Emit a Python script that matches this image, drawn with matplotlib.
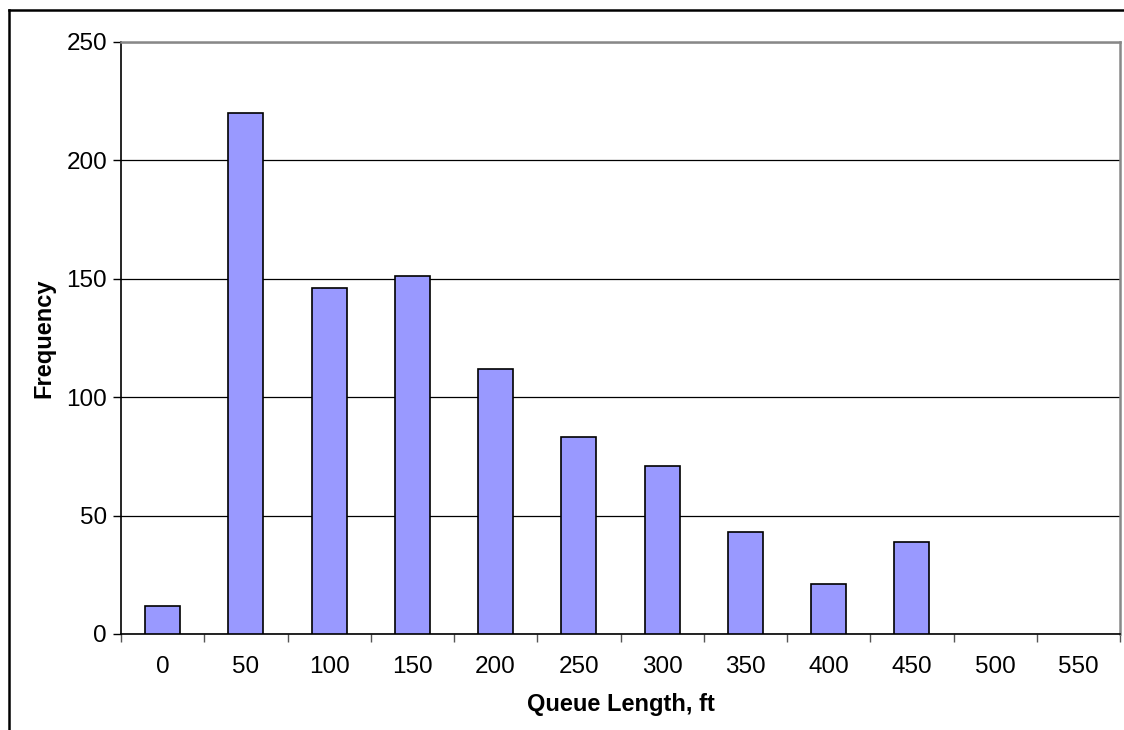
import matplotlib.pyplot as plt
import numpy as np
from matplotlib.lines import Line2D

plt.rcParams['font.family'] = ['Liberation Sans', 'DejaVu Sans']

# queue length bins (ft) and counts
bins = ['0', '50', '100', '150', '200', '250', '300', '350', '400', '450', '500', '550']
freq = [12, 220, 146, 151, 112, 83, 71, 43, 21, 39, 0, 0]

fig = plt.figure(figsize=(11.24, 7.3), dpi=100)
W, H = 1124, 730
ax = fig.add_axes([121 / W, 1 - 634 / H, (1120 - 121) / W, (634 - 42) / H])

x = np.arange(len(bins))
# empty bins get no outline, like the spreadsheet chart
edge_w = [1.2 if v > 0 else 0 for v in freq]
ax.bar(x, freq, width=0.42, color='#9999FF', edgecolor='black', linewidth=edge_w, zorder=3)

ax.set_xlim(-0.5, len(bins) - 0.5)
ax.set_ylim(0, 250)
ax.set_yticks(np.arange(0, 251, 50))
ax.yaxis.grid(True, color='black', linewidth=0.9)
ax.set_axisbelow(True)

# ticks between categories, labels at centres
ax.set_xticks(np.arange(-0.5, len(bins), 1.0))
ax.set_xticklabels([])
ax.set_xticks(x, minor=True)
ax.set_xticklabels(bins, minor=True)
ax.tick_params(axis='x', which='major', direction='out', length=6, width=1, color='#555555')
ax.tick_params(axis='x', which='minor', length=0, pad=16, labelsize=17.5)
ax.tick_params(axis='y', direction='out', length=6, width=1, labelsize=17.5, pad=4)

for s in ['left', 'bottom']:
    ax.spines[s].set_color('black')
    ax.spines[s].set_linewidth(1.2)
for s in ['top', 'right']:
    ax.spines[s].set_color('#888888')
    ax.spines[s].set_linewidth(1.8)

ax.set_xlabel('Queue Length, ft', fontsize=17, fontweight='bold', labelpad=11)
ax.set_ylabel('Frequency', fontsize=17, fontweight='bold', labelpad=8)

# outer chart border (right and bottom edges fall outside the image)
fig.add_artist(Line2D([8.5 / W, 8.5 / W], [0, 1 - 9.5 / H], color='black', linewidth=1.8))
fig.add_artist(Line2D([8.5 / W, 1], [1 - 9.5 / H, 1 - 9.5 / H], color='black', linewidth=1.8))

fig.savefig('out.png', dpi=100)
